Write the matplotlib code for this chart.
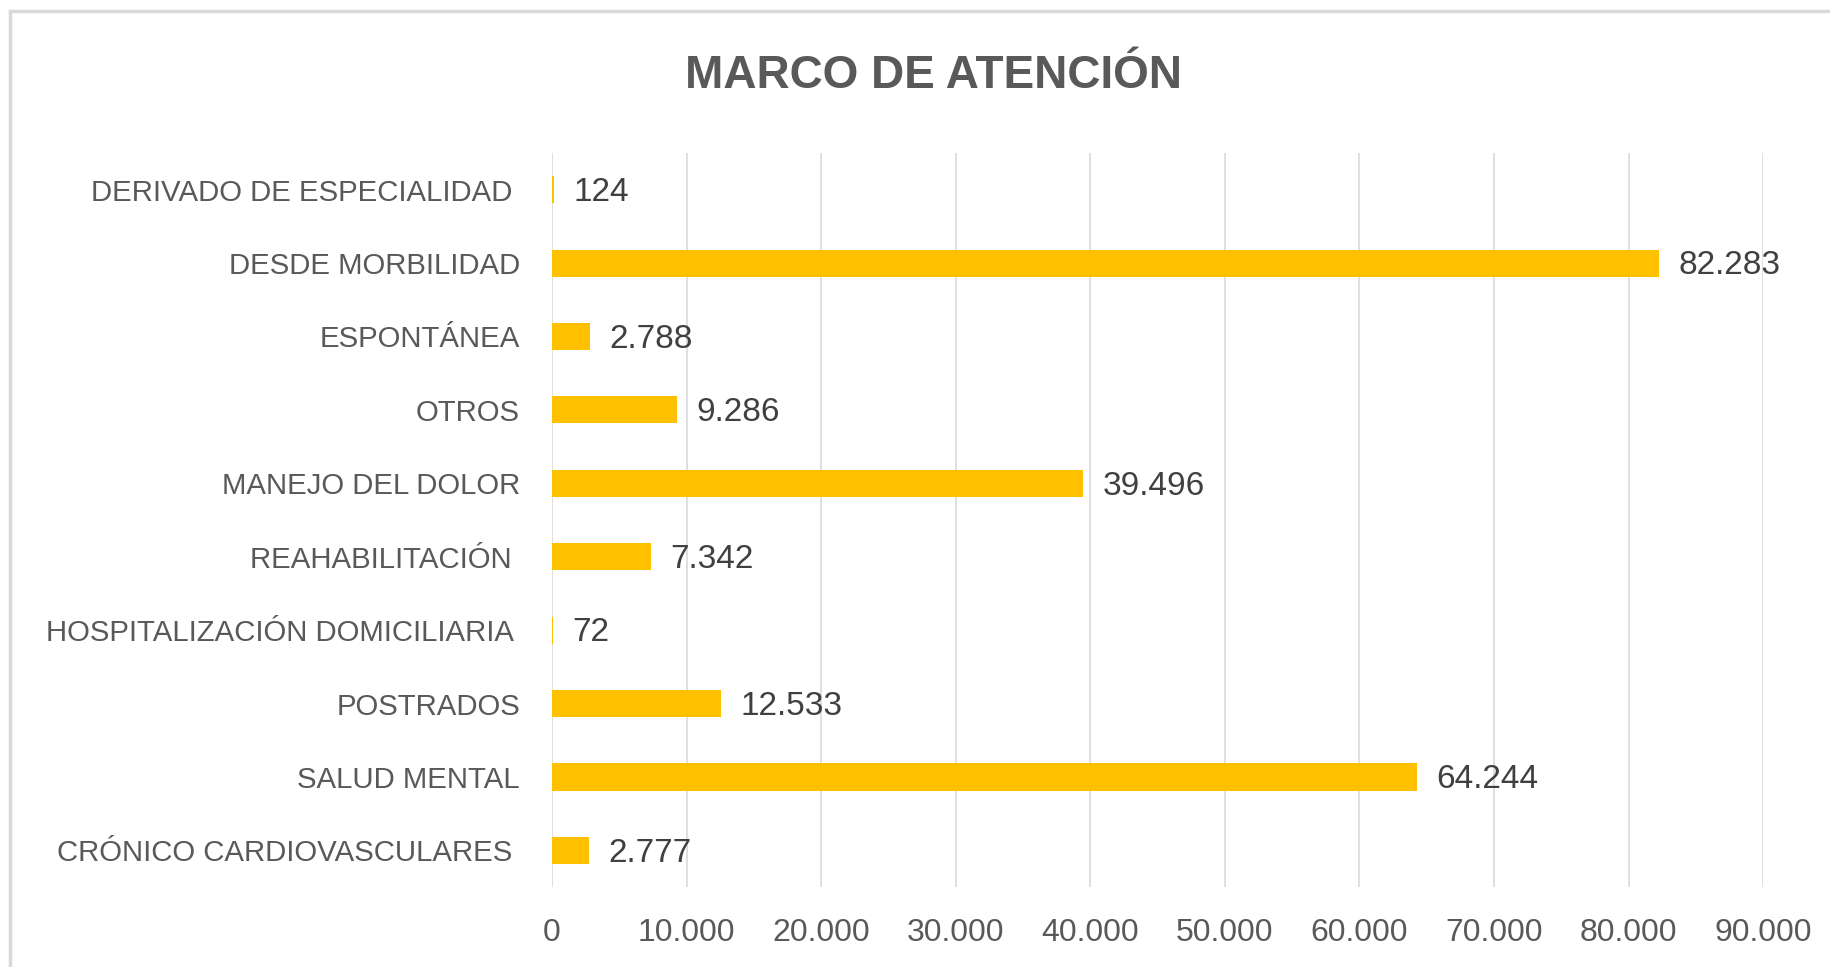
import matplotlib
matplotlib.use("Agg")
import matplotlib.pyplot as plt
from matplotlib.ticker import FuncFormatter
from matplotlib.patches import Rectangle

categorias = ["CRÓNICO CARDIOVASCULARES ", "SALUD MENTAL", "POSTRADOS",
              "HOSPITALIZACIÓN DOMICILIARIA ", "REAHABILITACIÓN ", "MANEJO DEL DOLOR",
              "OTROS", "ESPONTÁNEA", "DESDE MORBILIDAD", "DERIVADO DE ESPECIALIDAD "]
valores = [2777, 64244, 12533, 72, 7342, 39496, 9286, 2788, 82283, 124]
ticks = [0, 10000, 20000, 30000, 40000, 50000, 60000, 70000, 80000, 90000]

plt.rcParams['font.family'] = ['Liberation Sans Narrow', 'Liberation Sans', 'DejaVu Sans']


def miles(v, pos=None):
    return f"{int(v):,}".replace(",", ".")


fig = plt.figure(figsize=(18.31, 9.67), dpi=100)
fig.patch.set_facecolor("white")
# marco gris del grafico
fig.patches.append(Rectangle((10 / 1831, -0.05), 1.1, 1 - 11 / 967 + 0.05,
                             transform=fig.transFigure, fill=False,
                             edgecolor="#d9d9d9", linewidth=2.5))

ax = fig.add_axes([0.3015, 0.0827, 0.6614, 0.7591])
y = range(len(categorias))
barras = ax.barh(y, valores, height=0.37, color="#ffc000")
ax.set_xlim(0, 90000)
ax.set_ylim(-0.5, len(categorias) - 0.5)
ax.set_xticks(ticks)
ax.xaxis.set_major_formatter(FuncFormatter(miles))
ax.set_yticks(list(y))
ax.set_yticklabels(categorias)
ax.tick_params(axis="y", length=0, pad=23, labelsize=21.2, labelcolor="#595959")
ax.tick_params(axis="x", length=0, pad=22, labelsize=23, labelcolor="#595959")
ax.grid(axis="x", color="#d9d9d9", linewidth=1.2)
ax.set_axisbelow(True)
for s in ax.spines.values():
    s.set_visible(False)

for b, v in zip(barras, valores):
    ax.annotate(miles(v), (b.get_width(), b.get_y() + b.get_height() / 2),
                xytext=(14, -2), textcoords="offset points", va="center", ha="left",
                fontsize=24, color="#404040")

fig.text(0.51, 0.921, "MARCO DE ATENCIÓN", ha="center", va="center",
         fontsize=33, fontweight="bold", color="#595959")

fig.savefig("out.png", dpi=100)
